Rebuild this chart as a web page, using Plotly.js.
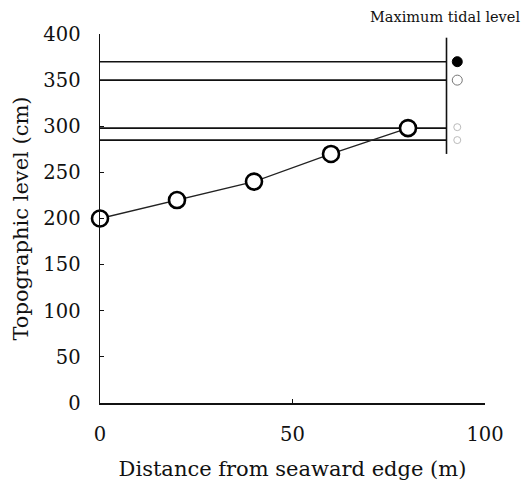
<!DOCTYPE html>
<html>
<head>
<meta charset="utf-8">
<script src="https://cdn.plot.ly/plotly-3.0.1.min.js"></script>
<style>
  html, body { margin: 0; padding: 0; background: #fff; }
  #chart { width: 524px; height: 487px; }
</style>
</head>
<body>
<div id="chart"></div>
<script>
// Transect profile: distance from seaward edge (m) vs. ground level (cm)
const distance = [0, 20, 40, 60, 80];
const topoLevel = [200, 220, 240, 270, 298];

// Tidal reference levels (cm), drawn as horizontal lines across the transect
const tidalLevels = [370, 350, 298, 285];
const tidalLineEnd = 90;        // lines run from the seaward edge to 90 m
const tidalBarSpan = [270, 396]; // vertical bar closing the lines

// Symbols beside the lines
const symbolX = 92.8;
const maxTideY = [370];
const highTideY = [350];
const faintY = [299, 285];

const FONT = 'DejaVu Serif, Liberation Serif, serif';

const traces = [];

tidalLevels.forEach(function (lv) {
  traces.push({
    x: [0, tidalLineEnd], y: [lv, lv],
    mode: 'lines', line: { color: '#111', width: 1.6 },
    hoverinfo: 'skip', showlegend: false
  });
});

traces.push({
  x: [tidalLineEnd, tidalLineEnd], y: tidalBarSpan,
  mode: 'lines', line: { color: '#111', width: 1.6 },
  hoverinfo: 'skip', showlegend: false
});

traces.push({
  x: distance, y: topoLevel,
  mode: 'lines+markers',
  line: { color: '#222', width: 1.3 },
  marker: { symbol: 'circle', size: 16, color: '#fff', line: { color: '#000', width: 2.6 } },
  cliponaxis: false, showlegend: false
});

traces.push({
  x: [symbolX], y: maxTideY, mode: 'markers',
  marker: { symbol: 'circle', size: 10, color: '#000', line: { color: '#000', width: 1 } },
  cliponaxis: false, showlegend: false
});
traces.push({
  x: [symbolX], y: highTideY, mode: 'markers',
  marker: { symbol: 'circle', size: 10, color: '#fff', line: { color: '#777', width: 1 } },
  cliponaxis: false, showlegend: false
});
traces.push({
  x: [symbolX, symbolX], y: faintY, mode: 'markers',
  marker: { symbol: 'circle-open', size: 7, color: '#bbb', line: { width: 1 } },
  cliponaxis: false, showlegend: false
});

const layout = {
  width: 524, height: 487,
  margin: { l: 100, r: 39, t: 34, b: 84 },
  paper_bgcolor: '#fff', plot_bgcolor: '#fff',
  font: { family: FONT, color: '#111', size: 19.5 },
  xaxis: {
    range: [0, 100], tickvals: [0, 50, 100], ticktext: ['0', '50', '100'],
    showline: true, linecolor: '#111', linewidth: 1.5,
    ticks: 'inside', ticklen: 4, tickcolor: '#111',
    showgrid: false, zeroline: false,
    tickfont: { family: FONT, size: 19.5 }, ticklabelstandoff: 13,
    title: { text: 'Distance from seaward edge (m)', font: { family: FONT, size: 21 }, standoff: 16 }
  },
  yaxis: {
    range: [0, 400], tickvals: [0, 50, 100, 150, 200, 250, 300, 350, 400],
    showline: true, linecolor: '#111', linewidth: 1.5,
    ticks: 'inside', ticklen: 4, tickcolor: '#111',
    showgrid: false, zeroline: false,
    tickfont: { family: FONT, size: 19.5 }, ticklabelstandoff: 14,
    title: { text: 'Topographic level (cm)', font: { family: FONT, size: 21 }, standoff: 9 }
  },
  annotations: [{
    text: 'Maximum tidal level', xref: 'paper', yref: 'paper',
    x: 1.095, y: 1.045, xanchor: 'right', yanchor: 'middle',
    showarrow: false, font: { family: FONT, size: 14.5, color: '#111' }
  }]
};

Plotly.newPlot('chart', traces, layout, { displayModeBar: false, staticPlot: true });
</script>
</body>
</html>
